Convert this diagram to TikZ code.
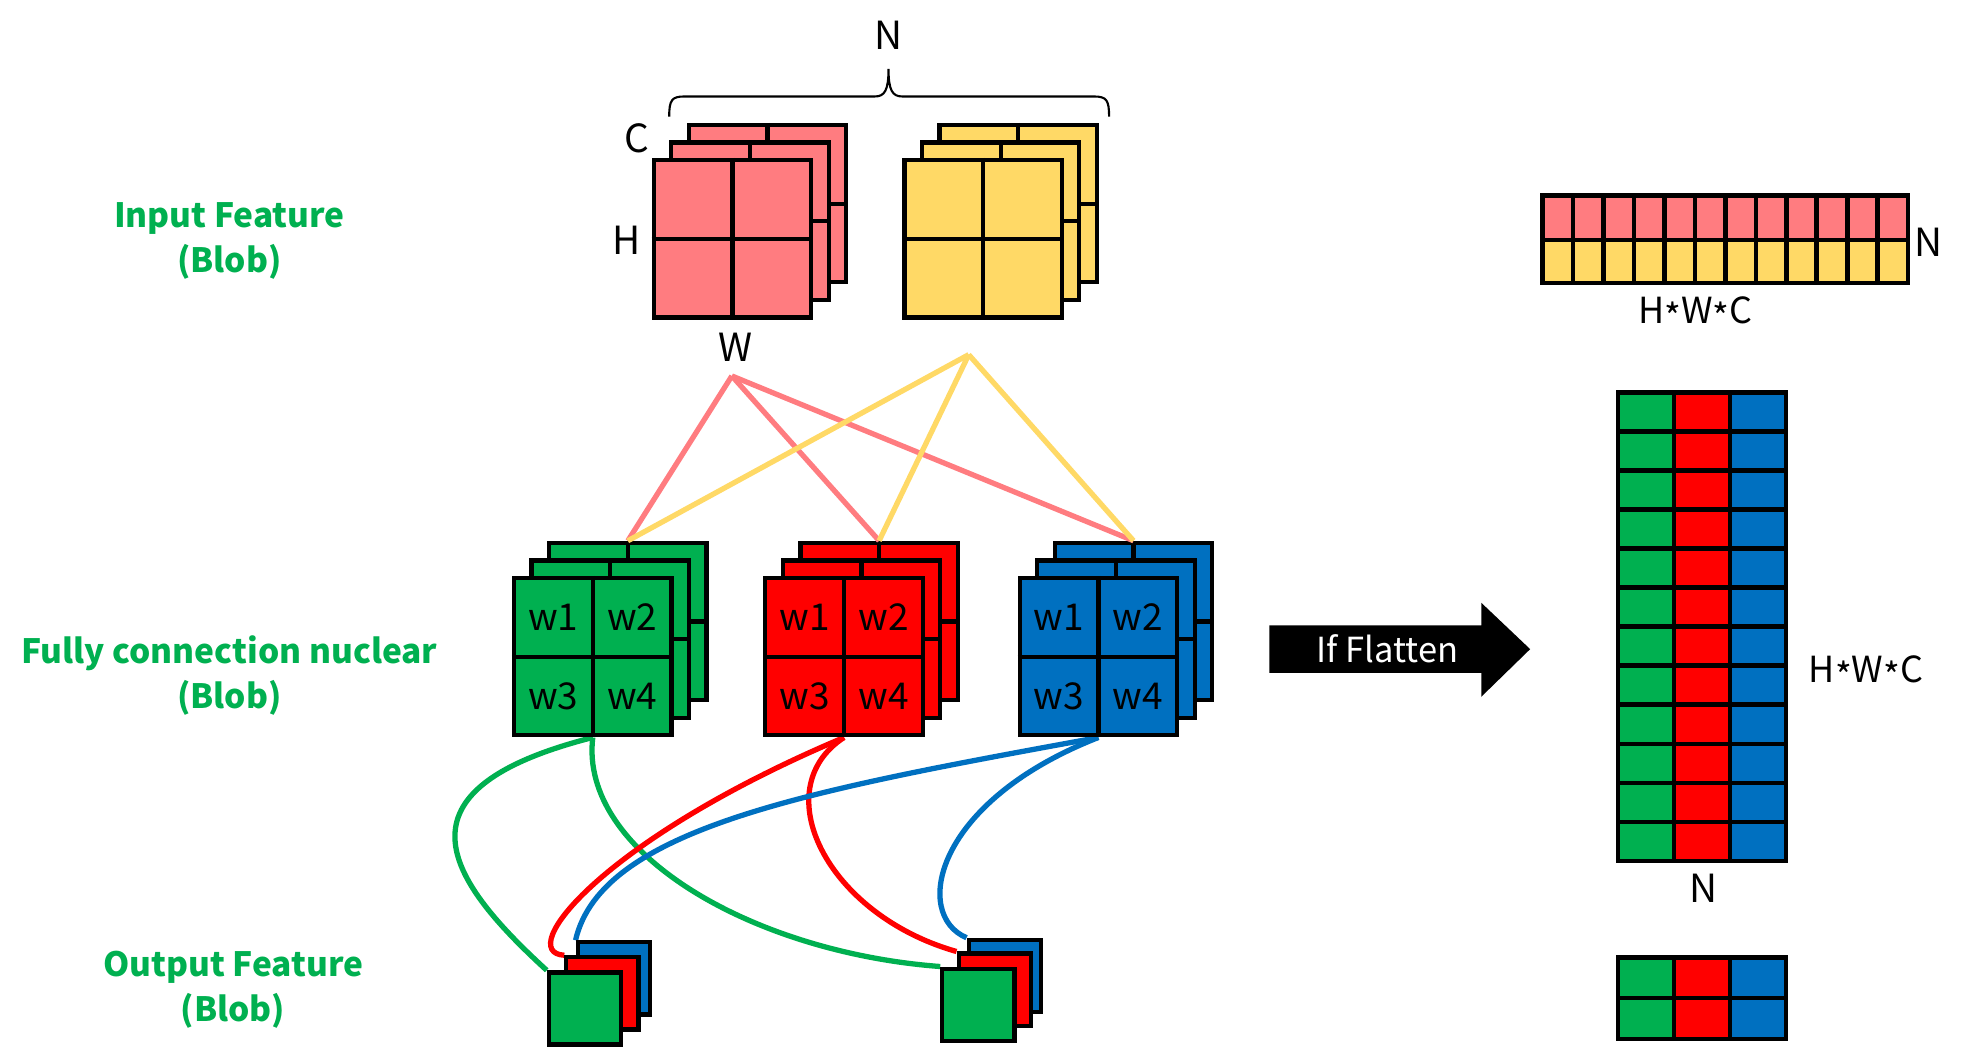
\documentclass[tikz,border=0pt]{standalone}
\usepackage{fontspec}
\setmainfont{Noto Sans CJK SC}
\usetikzlibrary{backgrounds}
\definecolor{CG}{RGB}{0, 176, 80}
\definecolor{CR}{RGB}{255, 0, 0}
\definecolor{CB}{RGB}{0, 112, 192}
\definecolor{CP}{RGB}{255, 124, 128}
\definecolor{CY}{RGB}{255, 217, 102}
\newcommand{\mstar}{\raisebox{-.35ex}{*}}
% square with a 2x2 grid: name, x, y, fill
\newcommand{\gridsq}[4]{%
  \node[sq, fill=#4] (#1) at (#2,#3) {};
  \draw[edge] (#1.north) -- (#1.south) (#1.west) -- (#1.east);
}

\begin{document}
\begin{tikzpicture}[x=0.125mm, y=-0.125mm, font=\fontsize{11}{12.8}\selectfont,
    sq/.style={draw=black, line width=1.2pt, minimum size=15.7mm, inner sep=0pt},
    osq/.style={draw=black, line width=1.2pt, minimum size=7.2mm, inner sep=0pt},
    edge/.style={line width=1.2pt},
    link/.style={line width=1.5pt},
    cellline/.style={draw=black, line width=1.3pt},
    lab/.style={text=CG, font=\fontsize{9.5}{12.8}\selectfont\bfseries, align=center},
    wlab/.style={font=\fontsize{10.5}{12}\selectfont}]
        \useasboundingbox (0,0) rectangle (1568,843);

        % row labels
        \node[lab] (inlab)  at (183,192) {Input Feature\\(Blob)};
        \node[lab] (fclab)  at (183,539) {Fully connection nuclear\\(Blob)};
        \node[lab] (outlab) at (186,790) {Output Feature\\(Blob)};

        % input blobs
        \foreach \d in {28,14,0} {
            \gridsq{p\d}{584.5+\d}{190.5-\d}{CP}
            \gridsq{y\d}{784.5+\d}{190.5-\d}{CY}
        }
        % brace over the batch
        \draw[line width=0.6pt] (534,93) .. controls (534,80) and (536,77) .. (546,77) -- (698,77)
            .. controls (706,77) and (709,72) .. (709,55)
            .. controls (709,72) and (712,77) .. (720,77) -- (873,77)
            .. controls (883,77) and (885,80) .. (885,93);
        \node (nlab) at (709,28) {N};
        \node (clab) at (508,110) {C};
        \node (hlab) at (500,192) {H};
        \node (wdim) at (587,277) {W};
        \coordinate (pw) at (584,300);
        \coordinate (yw) at (773,283);

        % kernels
        \foreach \k/\cx/\col in {G/473/CG, R/673.5/CR, B/876.5/CB} {
            \gridsq{k\k3}{\cx+28}{496}{\col}
            \gridsq{k\k2}{\cx+14}{510}{\col}
            \gridsq{k\k}{\cx}{524}{\col}
            \node[wlab] (k\k w1) at (\cx-31.5,492.5) {w1};
            \node[wlab] (k\k w2) at (\cx+31.5,492.5) {w2};
            \node[wlab] (k\k w3) at (\cx-31.5,555.5) {w3};
            \node[wlab] (k\k w4) at (\cx+31.5,555.5) {w4};
        }
        \foreach \k in {G,R,B} {
            \draw[link, CP] (pw) -- (k\k3.north);
        }
        \foreach \k in {G,R,B} {
            \draw[link, CY] (yw) -- (k\k3.north);
        }

        % output blobs
        \node[osq, fill=CB] (oLb) at (489.75,780.75) {};
        \node[osq, fill=CB] (oRb) at (801.75,778.75) {};
        \node[osq, fill=CR] (oLr) at (480.75,792.75) {};
        \node[osq, fill=CR] (oRr) at (793.75,789.75) {};
        \node[osq, fill=CG] (oLg) at (466.75,804.75) {};
        \node[osq, fill=CG] (oRg) at (780.75,801.75) {};
        \begin{scope}[on background layer]
            \draw[link, CG] (kG.south) .. controls (310,630) and (355,700) .. (oLg.north west);
            \draw[link, CG] (kG.south) .. controls (462,680) and (600,760) .. (oRg.north west);
            \draw[link, CR] (kR.south) .. controls (480,670) and (410,760) .. (oLr.north west);
            \draw[link, CR] (kR.south) .. controls (610,630) and (660,730) .. (oRr.north west);
            \draw[link, CB] (kB.south) .. controls (650,630) and (480,660) .. (oLb.north west);
            \draw[link, CB] (kB.south) .. controls (745,640) and (728,730) .. (oRb.north west);
        \end{scope}

        % flatten arrow
        \fill (1013,499) -- (1182,499) -- (1182,481) -- (1221,518) -- (1182,556) -- (1182,537) -- (1013,537) -- cycle;
        \node[text=white, font=\fontsize{9.8}{12}\selectfont] (flat) at (1107,518) {If Flatten};

        % flattened input
        \foreach \i in {0,...,11} {
            \filldraw[cellline, fill=CP] ({1231+\i*24.3},156) rectangle +(24.3,35.5);
            \filldraw[cellline, fill=CY] ({1231+\i*24.3},191.5) rectangle +(24.3,34.5);
        }
        \node (ntop) at (1539,193) {N};
        \node[font=\fontsize{10.2}{12}\selectfont] (hwctop) at (1353,250) {H\mstar W\mstar C};

        % flattened kernel
        \foreach \j in {0,...,11} {
            \foreach \c/\col in {0/CG, 1/CR, 2/CB} {
                \filldraw[cellline, fill=\col] ({1291+\c*44.67},{313+\j*31.17}) rectangle +(44.67,31.17);
            }
        }
        \node[font=\fontsize{10.2}{12}\selectfont] (hwcside) at (1489,537) {H\mstar W\mstar C};
        \node (nbot) at (1359,709) {N};

        % flattened output
        \foreach \j in {0,1} {
            \foreach \c/\col in {0/CG, 1/CR, 2/CB} {
                \filldraw[cellline, fill=\col] ({1291+\c*44.67},{764+\j*32.5}) rectangle +(44.67,32.5);
            }
        }
\end{tikzpicture}
\end{document}
